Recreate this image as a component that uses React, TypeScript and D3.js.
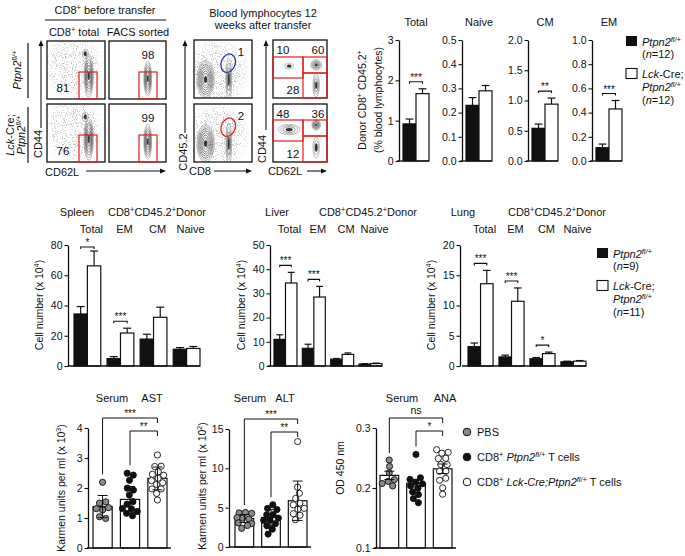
import React, { useEffect, useRef } from 'react';
import * as d3 from 'd3';

const FONT = "'Liberation Sans', Arial, Helvetica, sans-serif";

// top right: donor CD8+ CD45.2+ in blood (% of lymphocytes)
const bloodSubsets = ['Total', 'Naive', 'CM', 'EM'];
const bloodCtrl = [0.92, 0.23, 0.54, 0.11];
const bloodCtrlErr = [0.12, 0.032, 0.07, 0.03];
const bloodKo = [1.67, 0.29, 0.94, 0.43];
const bloodKoErr = [0.12, 0.022, 0.1, 0.07];
const bloodMax = [3, 0.5, 2, 1];
const bloodTicks = [[0, 1, 2, 3], [0, 0.1, 0.2, 0.3, 0.4, 0.5], [0, 0.5, 1, 1.5, 2], [0, 0.2, 0.4, 0.6, 0.8, 1]];
const bloodSig = ['***', '', '**', '***'];

// middle row: cell numbers (x 10^4)
const subsets = ['Total', 'EM', 'CM', 'Naive'];
const spleenCtrl = [34.4, 4.9, 17.8, 11.1];
const spleenCtrlErr = [4.9, 1.3, 3.2, 1.1];
const spleenKo = [66.2, 21.8, 32.2, 11.6];
const spleenKoErr = [9.8, 3.2, 6.7, 1.3];
const spleenSig = ['*', '***', '', ''];
const liverCtrl = [11, 7.3, 2.8, 0.8];
const liverCtrlErr = [1.9, 1.7, 0.3, 0.2];
const liverKo = [34.3, 28.5, 4.8, 1.0];
const liverKoErr = [4.4, 4.4, 0.6, 0.2];
const liverSig = ['***', '***', '', ''];
const lungCtrl = [3.2, 1.5, 1.2, 0.7];
const lungCtrlErr = [0.6, 0.3, 0.2, 0.1];
const lungKo = [13.6, 10.7, 2.05, 0.8];
const lungKoErr = [2.2, 2.2, 0.25, 0.1];
const lungSig = ['***', '***', '*', ''];
const organTicks = [[0, 20, 40, 60, 80], [0, 10, 20, 30, 40, 50], [0, 5, 10, 15, 20]];

// bottom row: serum
const serumGroups = ['PBS', 'ctrl', 'ko'];
const astPbs = [2.19, 1.49, 1.52, 1.32, 1.28, 1.35, 1.04, 0.99];
const astCtrl = [2.49, 2.43, 2.26, 1.99, 1.93, 1.77, 1.54, 1.43, 1.32, 1.32, 1.21, 1.16, 1.1];
const astKo = [3.1, 2.71, 2.71, 2.54, 2.43, 2.43, 2.27, 2.27, 2.16, 2.16, 1.99, 1.99, 1.82, 1.6];
const astMean = [1.38, 1.62, 2.32];
const astSd = [0.37, 0.43, 0.38];
const altPbs = [4.3, 4.2, 4.1, 3.8, 3.7, 3.6, 3.1, 3.0, 2.7, 2.6];
const altCtrl = [5.3, 4.9, 4.7, 4.05, 4.0, 3.6, 3.4, 3.4, 3.0, 2.9, 2.35, 1.7];
const altKo = [13.4, 7.6, 6.8, 6.2, 5.5, 5.3, 4.9, 4.9, 4.3, 4.0, 3.5];
const altMean = [3.62, 3.75, 5.88];
const altSd = [0.5, 1.0, 2.5];
const anaPbs = [0.245, 0.236, 0.227, 0.213, 0.21, 0.208, 0.205];
const anaCtrl = [0.256, 0.214, 0.212, 0.21, 0.208, 0.205, 0.2, 0.195, 0.19, 0.182, 0.176];
const anaKo = [0.263, 0.259, 0.257, 0.25, 0.249, 0.24, 0.24, 0.228, 0.228, 0.216, 0.213, 0.2, 0.19];
const anaMean = [0.221, 0.208, 0.232];
const anaSem = [0.007, 0.006, 0.008];

// flow plot populations: [cx, cy, rx, ry, levels] in unit coords of each plot
const popBeforeTotal = [[0.72, 0.4, 0.08, 0.37, 7], [0.66, 0.78, 0.05, 0.08, 2]];
const popBeforeSorted = [[0.68, 0.35, 0.07, 0.3, 7]];
const popCd45 = [[0.2, 0.32, 0.15, 0.33, 8], [0.6, 0.32, 0.05, 0.36, 4]];
const popCd62Top = [[0.8, 0.57, 0.1, 0.09, 5], [0.8, 0.22, 0.06, 0.2, 4], [0.3, 0.55, 0.08, 0.05, 2]];
const popCd62Bot = [[0.8, 0.64, 0.08, 0.09, 6], [0.3, 0.56, 0.2, 0.09, 4], [0.8, 0.25, 0.06, 0.18, 3]];

type Rich = [string, string];

function rich(t: any, parts: Rich[]) {
  parts.forEach(([s, st]) => {
    const ts = t.append('tspan').text(s);
    if (st.includes('i')) ts.attr('font-style', 'italic');
    if (st.includes('s')) ts.attr('font-size', '0.68em').attr('baseline-shift', 'super');
  });
  return t;
}

function txt(g: any, x: number, y: number, size: number, anchor = 'start', rotate = false) {
  const t = g.append('text')
    .attr('font-family', FONT)
    .attr('font-size', size)
    .attr('text-anchor', anchor)
    .attr('fill', '#111');
  if (rotate) t.attr('transform', `translate(${x},${y}) rotate(-90)`);
  else t.attr('x', x).attr('y', y);
  return t;
}

function arrowV(g: any, x: number, y1: number, y2: number) {
  g.append('line').attr('x1', x).attr('x2', x).attr('y1', y1).attr('y2', y2 + 3)
    .attr('stroke', '#111').attr('stroke-width', 1.1);
  g.append('path').attr('d', `M${x - 2.5},${y2 + 6}L${x},${y2}L${x + 2.5},${y2 + 6}Z`).attr('fill', '#111');
}

function arrowH(g: any, y: number, x1: number, x2: number) {
  g.append('line').attr('x1', x1).attr('x2', x2 - 3).attr('y1', y).attr('y2', y)
    .attr('stroke', '#111').attr('stroke-width', 1.1);
  g.append('path').attr('d', `M${x2 - 6},${y - 2.5}L${x2},${y}L${x2 - 6},${y + 2.5}Z`).attr('fill', '#111');
}

function flowPlot(g: any, x0: number, y0: number, w: number, h: number, pops: number[][], cloud: number[] | null) {
  const sx = d3.scaleLinear().domain([0, 1]).range([x0, x0 + w]);
  const sy = d3.scaleLinear().domain([0, 1]).range([y0 + h, y0]);
  const clipId = `clip${Math.round(x0)}_${Math.round(y0)}`;
  g.append('clipPath').attr('id', clipId).append('rect').attr('x', x0).attr('y', y0).attr('width', w).attr('height', h);
  const inner = g.append('g').attr('clip-path', `url(#${clipId})`);
  if (cloud) {
    inner.append('ellipse')
      .attr('cx', sx(cloud[0])).attr('cy', sy(cloud[1]))
      .attr('rx', cloud[2] * w).attr('ry', cloud[3] * h)
      .attr('fill', '#000').attr('filter', 'url(#speckle)');
  }
  pops.forEach(([cx, cy, rx, ry, lv]) => {
    const levels = d3.range(lv);
    const k = (d: number) => Math.pow(1 - d / lv, 0.85);
    inner.selectAll(null).data(levels).enter().append('ellipse')
      .attr('cx', sx(cx)).attr('cy', sy(cy))
      .attr('rx', (d: number) => rx * w * k(d))
      .attr('ry', (d: number) => ry * h * k(d))
      .attr('fill', (d: number) => (d === lv - 1 ? '#333' : 'none'))
      .attr('stroke', (d: number) => (d < 2 ? '#888' : '#444'))
      .attr('stroke-width', 0.55);
  });
  g.append('rect').attr('x', x0).attr('y', y0).attr('width', w).attr('height', h)
    .attr('fill', 'none').attr('stroke', '#111').attr('stroke-width', 1.3);
  return { sx, sy };
}

function leftAxis(g: any, x: number, y: any, ticks: number[], fmt: string) {
  const ax = g.append('g').attr('transform', `translate(${x},0)`)
    .call(d3.axisLeft(y).tickValues(ticks).tickFormat(d3.format(fmt)).tickSize(3.5).tickSizeOuter(0).tickPadding(2));
  ax.select('.domain').attr('stroke', '#111').attr('stroke-width', 1.3);
  ax.selectAll('.tick line').attr('stroke', '#111').attr('stroke-width', 1.1);
  ax.selectAll('.tick text').attr('font-family', FONT).attr('font-size', 10.5).attr('fill', '#111');
}

function pairBars(g: any, x: any, y: any, cats: string[], ctrl: number[], ctrlErr: number[], ko: number[], koErr: number[], sig: string[], topY: number) {
  const bw = x.bandwidth() / 2;
  cats.forEach((c, i) => {
    const specs = [
      { x: x(c), v: ctrl[i], e: ctrlErr[i], fill: '#111' },
      { x: x(c) + bw, v: ko[i], e: koErr[i], fill: '#fff' },
    ];
    specs.forEach((s) => {
      const cx = s.x + bw / 2;
      g.append('line').attr('x1', cx).attr('x2', cx).attr('y1', y(s.v)).attr('y2', y(s.v + s.e))
        .attr('stroke', '#111').attr('stroke-width', 1.2);
      g.append('line').attr('x1', cx - bw * 0.3).attr('x2', cx + bw * 0.3).attr('y1', y(s.v + s.e)).attr('y2', y(s.v + s.e))
        .attr('stroke', '#111').attr('stroke-width', 1.2);
      g.append('rect').attr('x', s.x).attr('y', y(s.v)).attr('width', bw).attr('height', y(0) - y(s.v))
        .attr('fill', s.fill).attr('stroke', '#111').attr('stroke-width', 1.2);
    });
    if (sig[i]) {
      const by = Math.max(topY + 2, y(ko[i] + koErr[i]) - 7);
      const a = x(c) + bw / 2;
      const b = x(c) + bw * 1.5;
      g.append('path').attr('d', `M${a},${by + 2}V${by}H${b}V${by + 2}`)
        .attr('fill', 'none').attr('stroke', '#111').attr('stroke-width', 1.1);
      txt(g, (a + b) / 2, by - 1, 10, 'middle').text(sig[i]);
    }
  });
  const [r0, r1] = x.range();
  g.append('line').attr('x1', r0 - 6).attr('x2', r1).attr('y1', y(0)).attr('y2', y(0))
    .attr('stroke', '#111').attr('stroke-width', 1.3);
}

function barLegend(g: any, x: number, y: number, n1: string, n2: string) {
  g.append('rect').attr('x', x).attr('y', y).attr('width', 11).attr('height', 10).attr('fill', '#111');
  g.append('rect').attr('x', x).attr('y', y + 32.5).attr('width', 11).attr('height', 10)
    .attr('fill', '#fff').attr('stroke', '#111').attr('stroke-width', 1.1);
  rich(txt(g, x + 16, y + 10, 11), [['Ptpn2', 'i'], ['fl/+', 'is']]);
  rich(txt(g, x + 16, y + 22, 11), [['(', ''], ['n', 'i'], [`=${n1})`, '']]);
  rich(txt(g, x + 16, y + 42, 11), [['Lck', 'i'], ['-Cre;', '']]);
  rich(txt(g, x + 16, y + 55, 11), [['Ptpn2', 'i'], ['fl/+', 'is']]);
  rich(txt(g, x + 16, y + 68, 11), [['(', ''], ['n', 'i'], [`=${n2})`, '']]);
}

function scatterBars(g: any, x: any, y: any, sets: number[][], mean: number[], err: number[], brackets: [number, number, string][], topY: number) {
  const fills = ['#8a8a8a', '#111', '#fff'];
  const bw = x.bandwidth();
  serumGroups.forEach((grp, i) => {
    g.append('rect').attr('x', x(grp)).attr('y', y(mean[i])).attr('width', bw).attr('height', y.range()[0] - y(mean[i]))
      .attr('fill', '#fff').attr('stroke', '#111').attr('stroke-width', 1.2);
  });
  serumGroups.forEach((grp, i) => {
    const cx = x(grp) + bw / 2;
    const nodes = sets[i].map((v) => ({ v, x: cx, y: y(v) }));
    const sim = d3.forceSimulation(nodes as any)
      .force('x', d3.forceX(cx).strength(0.12))
      .force('y', d3.forceY((d: any) => y(d.v)).strength(1))
      .force('c', d3.forceCollide(3.2))
      .stop();
    for (let k = 0; k < 150; k++) sim.tick();
    g.selectAll(null).data(nodes).enter().append('circle')
      .attr('cx', (d: any) => Math.max(x(grp) + 2, Math.min(x(grp) + bw - 2, d.x)))
      .attr('cy', (d: any) => d.y)
      .attr('r', 3.1)
      .attr('fill', fills[i]).attr('stroke', '#111').attr('stroke-width', 0.9);
  });
  serumGroups.forEach((grp, i) => {
    const cx = x(grp) + bw / 2;
    const hi = y(mean[i] + err[i]);
    const lo = y(mean[i] - err[i]);
    g.append('line').attr('x1', cx).attr('x2', cx).attr('y1', lo).attr('y2', hi).attr('stroke', '#111').attr('stroke-width', 1);
    [hi, lo].forEach((yy) => g.append('line').attr('x1', cx - 5).attr('x2', cx + 5).attr('y1', yy).attr('y2', yy)
      .attr('stroke', '#111').attr('stroke-width', 1));
  });
  brackets.forEach(([a, b, label], k) => {
    const by = k === 0 ? topY - 10 : topY + 3;
    const ax = x(serumGroups[a]) + bw / 2;
    const bx = x(serumGroups[b]) + bw / 2;
    const legA = y(d3.max(sets[a]) as number) - 8;
    g.append('path').attr('d', `M${ax},${legA}V${by}H${bx}V${by + 5}`)
      .attr('fill', 'none').attr('stroke', '#111').attr('stroke-width', 1);
    const t = txt(g, (ax + bx) / 2, by - (label === 'ns' ? 4 : 1), label === 'ns' ? 10.5 : 10, 'middle');
    t.text(label);
  });
  const [r0, r1] = x.range();
  g.append('line').attr('x1', r0 - 6).attr('x2', r1 + 4).attr('y1', y.range()[0]).attr('y2', y.range()[0])
    .attr('stroke', '#111').attr('stroke-width', 1.3);
}

export default function App() {
  const ref = useRef<SVGSVGElement | null>(null);

  useEffect(() => {
    const svg = d3.select(ref.current);
    svg.selectAll('*').remove();
    const defs = svg.append('defs');
    // speckled grey cloud for flow dot plots
    const sp = defs.append('filter').attr('id', 'speckle').attr('x', '-20%').attr('y', '-20%').attr('width', '140%').attr('height', '140%');
    sp.append('feGaussianBlur').attr('in', 'SourceGraphic').attr('stdDeviation', 5).attr('result', 'soft');
    sp.append('feTurbulence').attr('type', 'fractalNoise').attr('baseFrequency', 1.1).attr('numOctaves', 1).attr('seed', 3).attr('result', 'noise');
    sp.append('feColorMatrix').attr('in', 'noise').attr('type', 'matrix')
      .attr('values', '0 0 0 0 0.55  0 0 0 0 0.55  0 0 0 0 0.55  9 0 0 0 -4.9').attr('result', 'dots');
    sp.append('feComposite').attr('in', 'dots').attr('in2', 'soft').attr('operator', 'in');

    // ---------- flow cytometry, before transfer ----------
    const fl = svg.append('g');
    txt(fl, 105, 14, 11, 'middle').call((t: any) => rich(t, [['CD8', ''], ['+', 's'], [' before transfer', '']]));
    fl.append('line').attr('x1', 45).attr('x2', 166).attr('y1', 20).attr('y2', 20).attr('stroke', '#111').attr('stroke-width', 1);
    txt(fl, 74, 36, 11, 'middle').call((t: any) => rich(t, [['CD8', ''], ['+', 's'], [' total', '']]));
    txt(fl, 138, 36, 11, 'middle').text('FACS sorted');

    const rows = [{ y: 41, a: '81', b: '98' }, { y: 104, a: '76', b: '99' }];
    rows.forEach((r) => {
      flowPlot(fl, 47, r.y, 58, 58, popBeforeTotal, [0.45, 0.55, 0.45, 0.5]);
      flowPlot(fl, 109, r.y, 57, 58, popBeforeSorted, null);
      fl.append('rect').attr('x', 79).attr('y', r.y + 31).attr('width', 18).attr('height', 27)
        .attr('fill', 'none').attr('stroke', '#e0201b').attr('stroke-width', 1.2);
      fl.append('rect').attr('x', 139).attr('y', r.y + 31).attr('width', 18).attr('height', 27)
        .attr('fill', 'none').attr('stroke', '#e0201b').attr('stroke-width', 1.2);
      txt(fl, 63, r.y + 51, 11.5, 'middle').text(r.a);
      txt(fl, 148, r.y + 18, 11.5, 'middle').text(r.b);
    });
    fl.append('line').attr('x1', 28).attr('x2', 28).attr('y1', 43).attr('y2', 98).attr('stroke', '#111').attr('stroke-width', 1.2);
    fl.append('line').attr('x1', 28).attr('x2', 28).attr('y1', 107).attr('y2', 163).attr('stroke', '#111').attr('stroke-width', 1.2);
    rich(txt(fl, 21, 70, 11, 'middle', true), [['Ptpn2', 'i'], ['fl/+', 'is']]);
    rich(txt(fl, 14, 135, 11, 'middle', true), [['Lck', 'i'], ['-Cre;', '']]);
    rich(txt(fl, 25, 135, 11, 'middle', true), [['Ptpn2', 'i'], ['fl/+', 'is']]);
    arrowV(fl, 41, 128, 40);
    txt(fl, 42, 144, 11, 'middle', true).text('CD44');
    txt(fl, 45, 176, 11).text('CD62L');
    arrowH(fl, 171, 86, 166);

    // ---------- flow cytometry, blood after transfer ----------
    txt(fl, 263, 17, 11, 'middle').text('Blood lymphocytes 12');
    txt(fl, 263, 29, 11, 'middle').text('weeks after transfer');
    [40, 104].forEach((yy, k) => {
      const p = flowPlot(fl, 194, yy, 58, 58, popCd45, [0.4, 0.45, 0.5, 0.5]);
      fl.append('ellipse').attr('cx', p.sx(0.59)).attr('cy', p.sy(0.6)).attr('rx', 7).attr('ry', 9.5)
        .attr('transform', `rotate(20,${p.sx(0.59)},${p.sy(0.6)})`)
        .attr('fill', 'none').attr('stroke', k === 0 ? '#2b3f9a' : '#e0201b').attr('stroke-width', 1.3);
      txt(fl, 241, yy + 16, 11.5, 'middle').text(k === 0 ? '1' : '2');
    });
    arrowV(fl, 185, 133, 40);
    txt(fl, 187, 152, 11, 'middle', true).text('CD45.2');
    txt(fl, 200, 175, 11, 'middle').text('CD8');
    arrowH(fl, 171, 214, 252);

    const q = [
      { y: 40, pops: popCd62Top, n: ['10', '60', '28'], h1: 17, h2: 33 },
      { y: 104, pops: popCd62Bot, n: ['48', '36', '12'], h1: 16, h2: 32 },
    ];
    q.forEach((r) => {
      flowPlot(fl, 273, r.y, 54, 58, r.pops, null);
      const red = (x: number, y: number, w: number, h: number) => fl.append('rect').attr('x', x).attr('y', y)
        .attr('width', w).attr('height', h).attr('fill', 'none').attr('stroke', '#e0201b').attr('stroke-width', 1.2);
      red(273, r.y + r.h1, 30, 21);
      red(303, r.y + r.h1, 24, r.h2 - r.h1);
      red(303, r.y + r.h2, 24, 58 - r.h2);
      txt(fl, 283, r.y + 14, 11.5, 'middle').text(r.n[0]);
      txt(fl, 318, r.y + 14, 11.5, 'middle').text(r.n[1]);
      txt(fl, 293, r.y + 54, 11.5, 'middle').text(r.n[2]);
    });
    arrowV(fl, 266, 130, 40);
    txt(fl, 266, 149, 11, 'middle', true).text('CD44');
    txt(fl, 285, 175, 11, 'middle').text('CD62L');
    arrowH(fl, 171, 307, 327);

    // ---------- blood bar charts ----------
    const bl = svg.append('g');
    rich(txt(bl, 366, 100, 10.5, 'middle', true), [['Donor CD8', ''], ['+', 's'], [' CD45.2', ''], ['+', 's']]);
    txt(bl, 382, 100, 10.5, 'middle', true).text('(% blood lymphocytes)');
    const bloodAxisX = [399, 462, 528, 592];
    bloodSubsets.forEach((s, i) => {
      const y = d3.scaleLinear().domain([0, bloodMax[i]]).range([161, 40]);
      const x = d3.scaleBand().domain([s]).range([bloodAxisX[i] + 4, bloodAxisX[i] + 30]);
      leftAxis(bl, bloodAxisX[i], y, bloodTicks[i], i === 0 ? 'd' : '.1f');
      pairBars(bl, x, y, [s], [bloodCtrl[i]], [bloodCtrlErr[i]], [bloodKo[i]], [bloodKoErr[i]], [bloodSig[i]], 40);
      txt(bl, bloodAxisX[i] + 17, 26, 11, 'middle').text(s);
    });
    barLegend(bl, 626, 36, '12', '12');

    // ---------- organ bar charts ----------
    const org = svg.append('g');
    const organs = [
      { name: 'Spleen', ax: 68, r: [74, 200], max: 80, ctrl: spleenCtrl, ce: spleenCtrlErr, ko: spleenKo, ke: spleenKoErr, sig: spleenSig, nameX: 77, donorX: 157 },
      { name: 'Liver', ax: 270, r: [274, 382], max: 50, ctrl: liverCtrl, ce: liverCtrlErr, ko: liverKo, ke: liverKoErr, sig: liverSig, nameX: 277, donorX: 368 },
      { name: 'Lung', ax: 460, r: [468, 586], max: 20, ctrl: lungCtrl, ce: lungCtrlErr, ko: lungKo, ke: lungKoErr, sig: lungSig, nameX: 463, donorX: 557 },
    ];
    organs.forEach((o, i) => {
      const y = d3.scaleLinear().domain([0, o.max]).range([366, 245]);
      const x = d3.scaleBand().domain(subsets).range(o.r as [number, number]).paddingInner(0.19);
      leftAxis(org, o.ax, y, organTicks[i], 'd');
      pairBars(org, x, y, subsets, o.ctrl, o.ce, o.ko, o.ke, o.sig, 245);
      txt(org, o.nameX, 216, 11, 'middle').text(o.name);
      rich(txt(org, o.donorX, 216, 11, 'middle'), [['CD8', ''], ['+', 's'], ['CD45.2', ''], ['+', 's'], ['Donor', '']]);
      subsets.forEach((s) => txt(org, (x(s) as number) + x.bandwidth() / 2 + 4, 233, 11, 'middle').text(s));
      rich(txt(org, o.ax - 25, 305, 10.5, 'middle', true), [['Cell number (x 10', ''], ['4', 's'], [')', '']]);
    });
    barLegend(org, 597, 248, '9', '11');

    // ---------- serum panels ----------
    const se = svg.append('g');
    const panels = [
      { name: 'AST', ax: 88, r: [93, 167], dom: [0, 4], yr: [548, 428], ticks: [0, 1, 2, 3, 4], fmt: 'd', sets: [astPbs, astCtrl, astKo], mean: astMean, err: astSd, br: [[0, 2, '***'], [1, 2, '**']], lab: ['Karmen units per ml (x 10', '3'], labX: 65, labY: 488, serumX: 112, nameX: 152 },
      { name: 'ALT', ax: 229, r: [235, 307], dom: [0, 15], yr: [547, 429], ticks: [0, 5, 10, 15], fmt: 'd', sets: [altPbs, altCtrl, altKo], mean: altMean, err: altSd, br: [[0, 2, '***'], [1, 2, '**']], lab: ['Karmen units per ml (x 10', '2'], labX: 206, labY: 486, serumX: 250, nameX: 285 },
      { name: 'ANA', ax: 376, r: [380, 452], dom: [0.1, 0.3], yr: [548, 428], ticks: [0.1, 0.2, 0.3], fmt: '.1f', sets: [anaPbs, anaCtrl, anaKo], mean: anaMean, err: anaSem, br: [[0, 2, 'ns'], [1, 2, '*']], lab: ['OD 450 nm', ''], labX: 344, labY: 468, serumX: 402, nameX: 445 },
    ];
    panels.forEach((p) => {
      const y = d3.scaleLinear().domain(p.dom).range(p.yr);
      const x = d3.scaleBand().domain(serumGroups).range(p.r as [number, number]).paddingInner(0.3);
      leftAxis(se, p.ax, y, p.ticks, p.fmt);
      scatterBars(se, x, y, p.sets, p.mean, p.err, p.br as [number, number, string][], p.yr[1]);
      txt(se, p.serumX, 402, 11, 'middle').text('Serum');
      txt(se, p.nameX, 402, 11, 'middle').text(p.name);
      const parts: Rich[] = p.lab[1] ? [[p.lab[0], ''], [p.lab[1], 's'], [')', '']] : [[p.lab[0], '']];
      rich(txt(se, p.labX, p.labY, 10.5, 'middle', true), parts);
    });

    // serum legend
    const lg = se.append('g');
    const lgFill = ['#8a8a8a', '#111', '#fff'];
    const lgText: Rich[][] = [
      [['PBS', '']],
      [['CD8', ''], ['+', 's'], [' ', ''], ['Ptpn2', 'i'], ['fl/+', 'is'], [' T cells', '']],
      [['CD8', ''], ['+', 's'], [' ', ''], ['Lck-Cre;Ptpn2', 'i'], ['fl/+', 'is'], [' T cells', '']],
    ];
    lgFill.forEach((f, i) => {
      lg.append('circle').attr('cx', 467).attr('cy', 432 + i * 25).attr('r', 3.8)
        .attr('fill', f).attr('stroke', '#111').attr('stroke-width', 1);
      rich(txt(lg, 477, 436 + i * 25, 11), lgText[i]);
    });
  }, []);

  return (
    <svg ref={ref} width={685} height={556} style={{ position: 'absolute', left: 0, top: 0, background: '#fff' }} />
  );
}
